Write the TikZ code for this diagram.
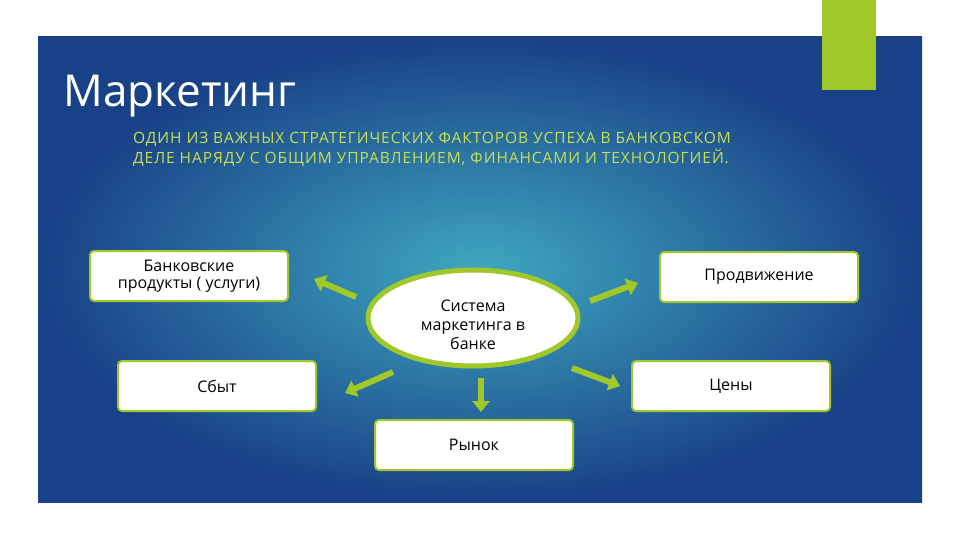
\documentclass[tikz,border=0pt]{standalone}
\usepackage{fontspec}
\setmainfont{Open Sans}
\usetikzlibrary{shapes.geometric,arrows.meta}
\definecolor{lg}{RGB}{160,200,40}
\definecolor{inner}{RGB}{62,168,192}
\definecolor{outer}{RGB}{25,65,135}
\definecolor{sub}{RGB}{200,225,80}
\tikzset{
  box/.style={draw=lg,line width=2pt,fill=white,rounded corners=4pt,minimum width=198pt,minimum height=50pt,align=center,font=\fontsize{16}{17}\selectfont,inner sep=2pt},
  arr/.style={draw=lg,line width=6pt,-{Triangle[length=11pt,width=17pt]}}
}
\begin{document}
\begin{tikzpicture}[x=1pt,y=-1pt]
\useasboundingbox (0,0) rectangle (960,540);
\fill[white] (0,0) rectangle (960,540);
\shade[inner color=inner,outer color=outer] (38,37) rectangle (922,502);
\fill[lg] (822,0) rectangle (876,90);
\node[anchor=west,text=white,font=\fontsize{44}{46}\selectfont] (t) at (60,96) {Маркетинг};
\node[anchor=north west,text=sub,align=left,font=\fontsize{15.5}{20}\selectfont\addfontfeatures{LetterSpace=6},inner sep=0] (s) at (133,132) {ОДИН ИЗ ВАЖНЫХ СТРАТЕГИЧЕСКИХ ФАКТОРОВ УСПЕХА В БАНКОВСКОМ\\ДЕЛЕ НАРЯДУ С ОБЩИМ УПРАВЛЕНИЕМ, ФИНАНСАМИ И ТЕХНОЛОГИЕЙ.};
\node[ellipse,draw=lg,line width=5pt,fill=white,minimum width=210pt,minimum height=96pt,inner sep=0] (c) at (473,318) {};
\node[align=center,font=\fontsize{16}{19}\selectfont,inner sep=0] (ct) at (473,325) {Система\\маркетинга в\\банке};
\node[box] (b1) at (189,276) {Банковские\\продукты ( услуги)};
\node[box] (b2) at (759,277) {Продвижение};
\node[box] (b3) at (217,386) {Сбыт};
\node[box] (b4) at (731,386) {Цены};
\node[box] (b5) at (474,445) {Рынок};
\coordinate (a1) at (356,297); \coordinate (e1) at (314,279);
\coordinate (a2) at (590,301); \coordinate (e2) at (638,283);
\coordinate (a3) at (393,372); \coordinate (e3) at (345,393);
\coordinate (a4) at (481,378); \coordinate (e4) at (481,412);
\coordinate (a5) at (572,368); \coordinate (e5) at (620,386);
\foreach \i in {1,...,5} \draw[arr] (a\i) -- (e\i);
\end{tikzpicture}
\end{document}
